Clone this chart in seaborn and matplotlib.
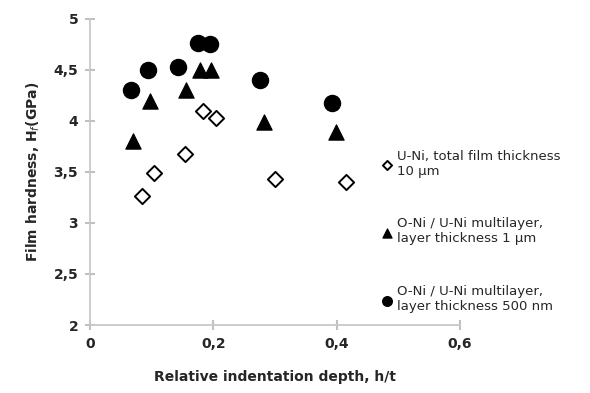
import pandas as pd
import seaborn as sns
import matplotlib.pyplot as plt

# U-Ni, total film thickness 10 um
x_uni = [0.084, 0.104, 0.154, 0.183, 0.204, 0.300, 0.415]
y_uni = [3.26, 3.49, 3.68, 4.10, 4.03, 3.43, 3.40]
# O-Ni / U-Ni multilayer, 1 um
x_ml1 = [0.070, 0.097, 0.156, 0.178, 0.196, 0.282, 0.399]
y_ml1 = [3.80, 4.20, 4.30, 4.50, 4.50, 3.99, 3.89]
# O-Ni / U-Ni multilayer, 500 nm
x_ml5 = [0.066, 0.094, 0.143, 0.175, 0.195, 0.276, 0.392]
y_ml5 = [4.30, 4.50, 4.53, 4.76, 4.75, 4.40, 4.18]

labels = ['U-Ni, total film thickness\n10 \u00b5m',
          'O-Ni / U-Ni multilayer,\nlayer thickness 1 \u00b5m',
          'O-Ni / U-Ni multilayer,\nlayer thickness 500 nm']

xticks = [0, 0.2, 0.4, 0.6]
xticklabels = ['0', '0,2', '0,4', '0,6']
yticks = [2, 2.5, 3, 3.5, 4, 4.5, 5]
yticklabels = ['2', '2,5', '3', '3,5', '4', '4,5', '5']

sns.set_style('white')
fig = plt.figure(figsize=(5.9, 3.93), dpi=100)
ax = fig.add_axes([0.1525, 0.173, 0.627, 0.779])

sns.scatterplot(x=x_uni, y=y_uni, marker='D', s=60, facecolor='white',
                edgecolor='black', linewidth=1.4, label=labels[0], ax=ax)
sns.scatterplot(x=x_ml1, y=y_ml1, marker='^', s=120, color='black',
                edgecolor='black', label=labels[1], ax=ax)
sns.scatterplot(x=x_ml5, y=y_ml5, marker='o', s=135, color='black',
                edgecolor='black', label=labels[2], ax=ax)

ax.set_xlim(0, 0.6)
ax.set_ylim(2, 5)
ax.set_xticks(xticks)
ax.set_xticklabels(xticklabels, fontweight='bold', fontsize=10)
ax.set_yticks(yticks)
ax.set_yticklabels(yticklabels, fontweight='bold', fontsize=10)
ax.tick_params(bottom=True, left=True, direction='inout', length=7,
               color='#c0c0c0', width=1.5, pad=5)
for s in ['top', 'right']:
    ax.spines[s].set_visible(False)
for s in ['left', 'bottom']:
    ax.spines[s].set_color('#c8c8c8')
    ax.spines[s].set_linewidth(1.3)

ax.set_xlabel('Relative indentation depth, h/t', fontweight='bold', fontsize=10, labelpad=14)
ax.set_ylabel('Film hardness, H$_f$(GPa)', fontweight='bold', fontsize=10, labelpad=8)

leg = ax.legend(loc='upper left', bbox_to_anchor=(0.632, 0.632), bbox_transform=fig.transFigure,
                frameon=False, fontsize=9.5, handletextpad=0.05, labelspacing=3.0,
                markerscale=0.6, borderaxespad=0, handlelength=1.4)

fig.savefig('out.png', dpi=100)
